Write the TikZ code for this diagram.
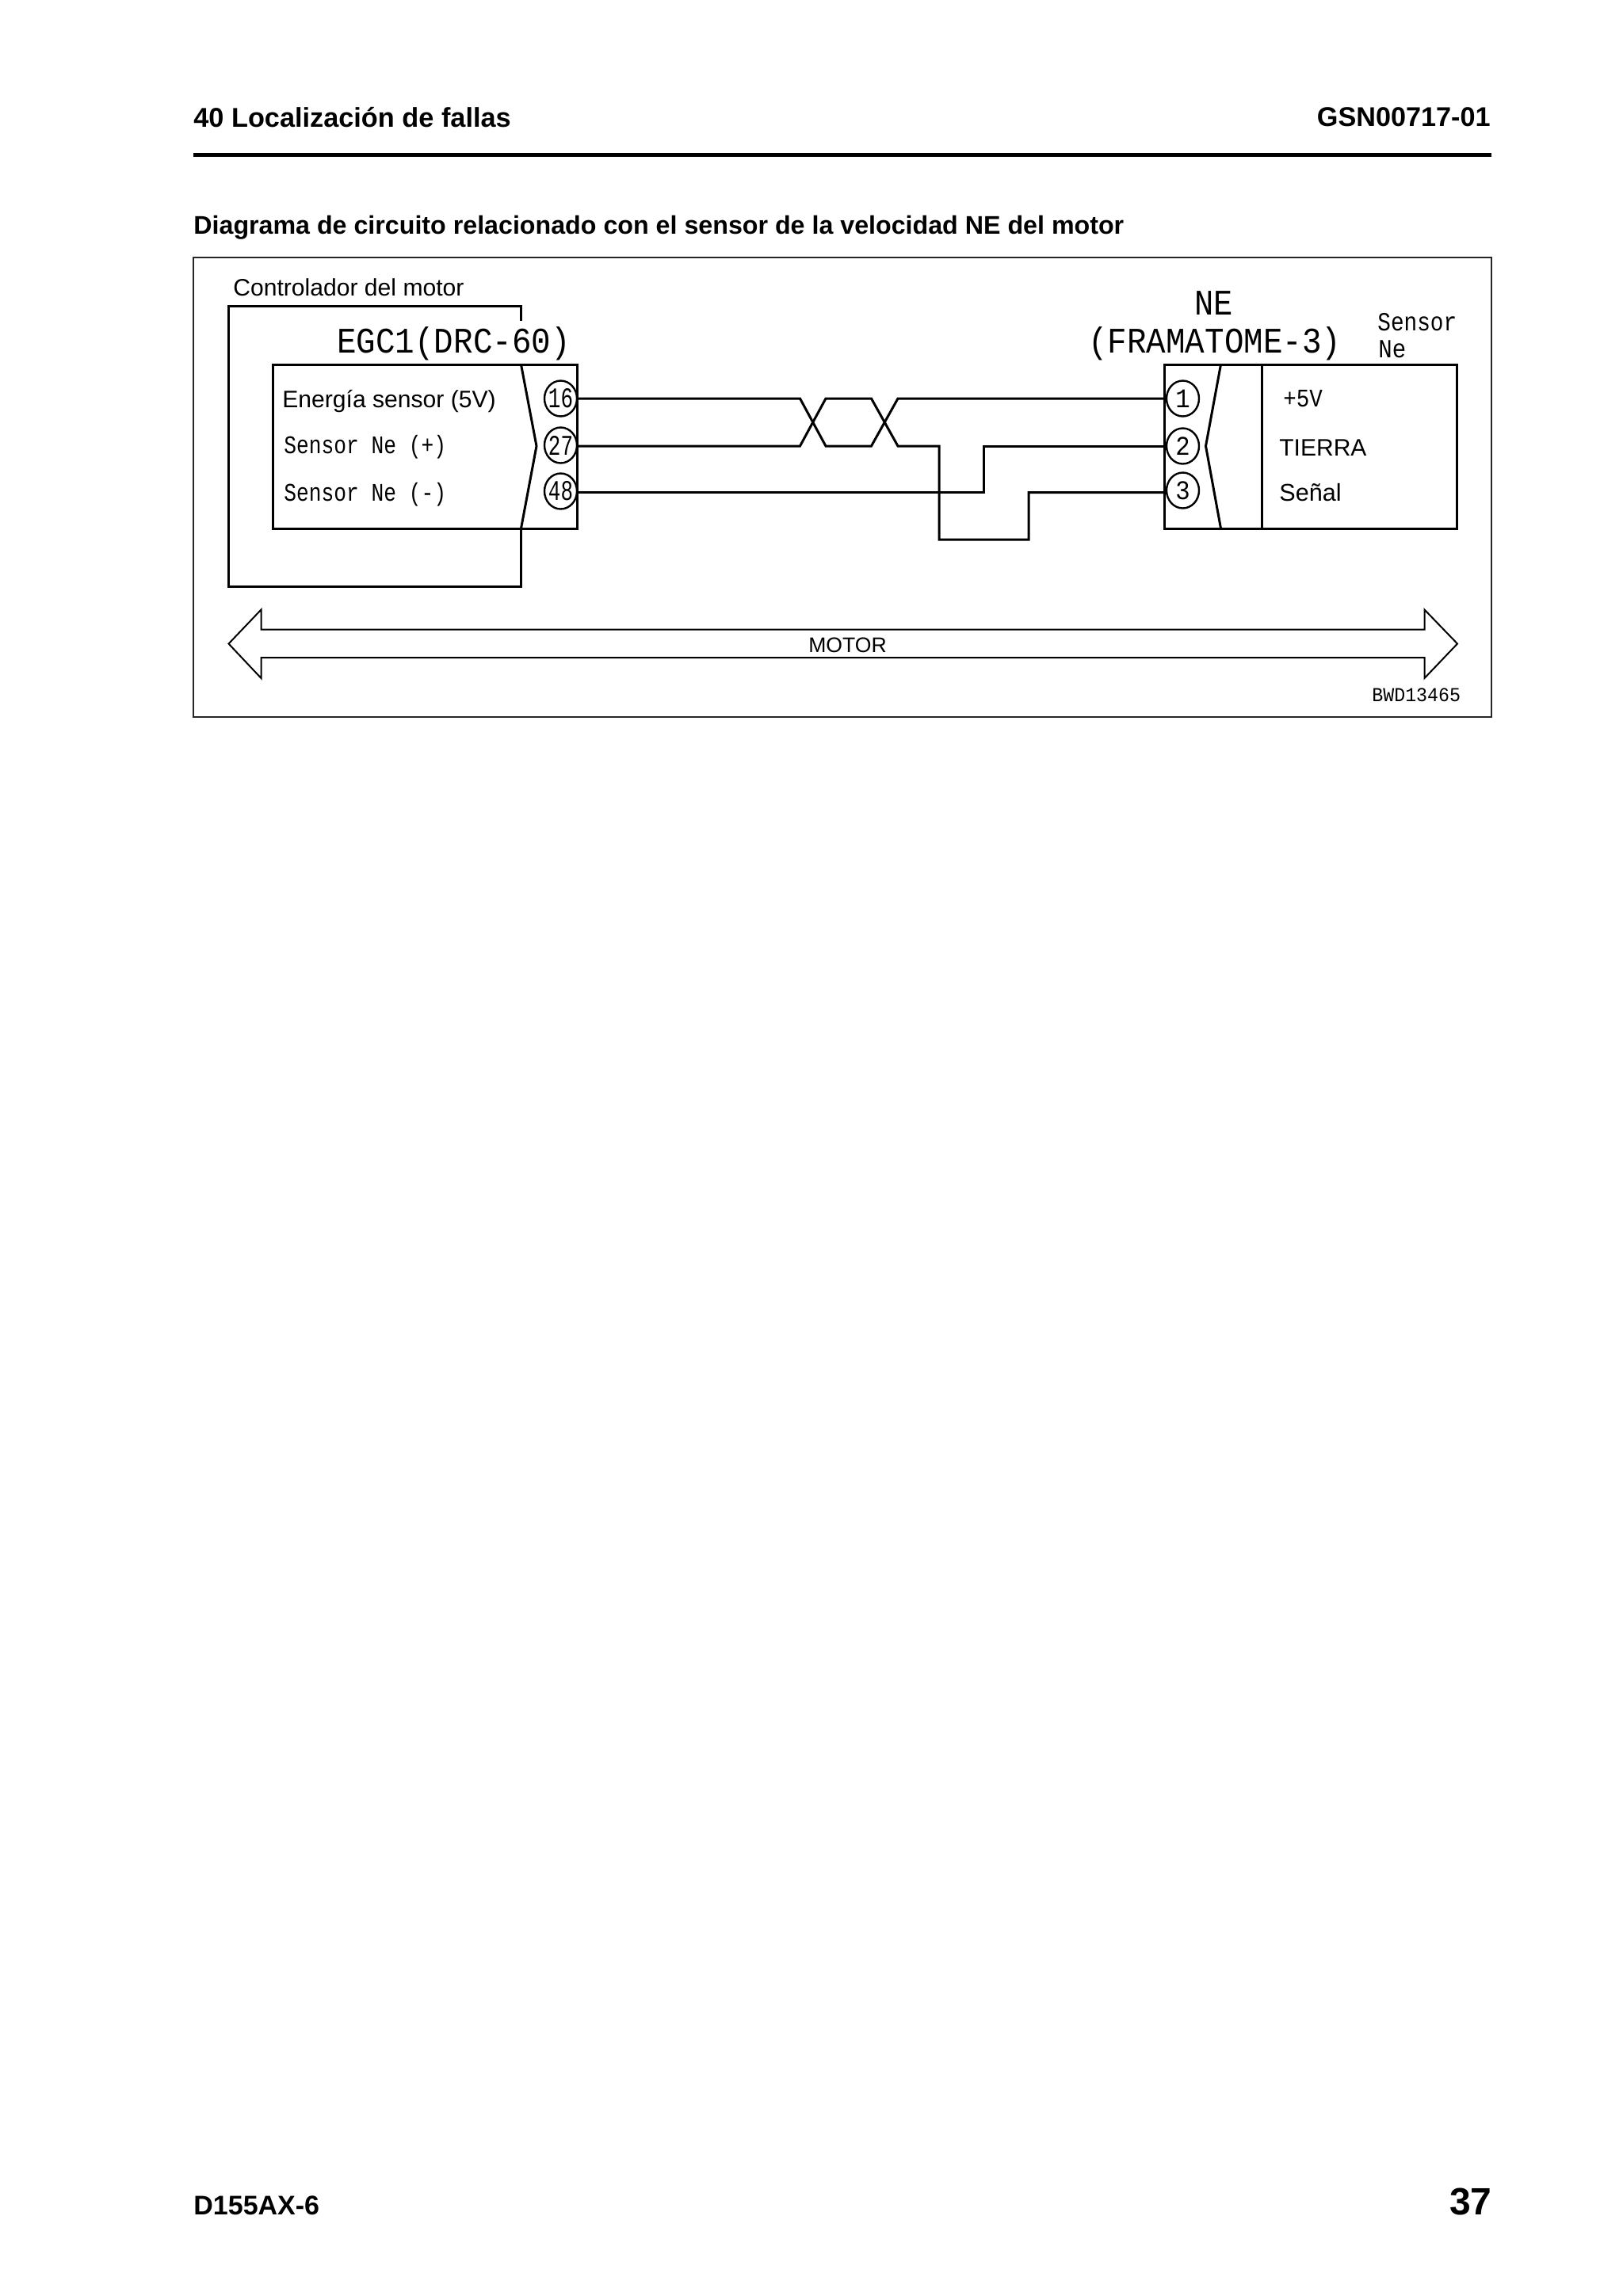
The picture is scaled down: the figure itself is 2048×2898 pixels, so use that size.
\documentclass[tikz,border=0pt]{standalone}
\usepackage{fontspec}
\setmainfont{Liberation Sans}
\newfontfamily\cadfont{Liberation Mono}
\usetikzlibrary{shapes.geometric}
\tikzset{
  x=0.5pt,y=-0.5pt,
  wire/.style={line width=1.5pt,line join=miter},
  thin line/.style={line width=1pt,line join=miter},
  frame line/.style={line width=1pt,draw=black!85},
  pin/.style={draw,line width=1.2pt,ellipse,minimum width=20.5pt,minimum height=22.5pt,inner sep=0pt},
  lab/.style={inner sep=0pt,anchor=base west},
  cadnode/.style={inner sep=0pt,anchor=base west,font=\cadfont},
  pinlab/.style={inner sep=0pt,font=\cadfont},
}
\newcommand{\hs}[3]{\fontsize{#1}{#1}\selectfont\scalebox{#2}[1]{#3}}
\begin{document}
\begin{tikzpicture}
\useasboundingbox (0,0) rectangle (2048,2898);
\fill[white] (0,0) rectangle (2048,2898);
% header
\node[lab,font=\bfseries\fontsize{17.15}{17.15}\selectfont] (h1) at (244,160) {40 Localización de fallas};
\node[inner sep=0pt,anchor=base east,font=\bfseries\fontsize{17.1}{17.1}\selectfont] (h2) at (1881,159) {GSN00717-01};
\draw[line width=2.5pt] (244,195) -- (1882,195);
\node[lab,font=\bfseries\fontsize{16.1}{16.1}\selectfont] (title) at (244,295) {Diagrama de circuito relacionado con el sensor de la velocidad NE del motor};
% frame
\draw[frame line] (244,325) rectangle (1882,905);
% controller
\node[lab,font=\fontsize{15.05}{15.05}\selectfont] (ctrl) at (294,373) {Controlador del motor};
\draw[wire] (657.5,405) -- (657.5,386) -- (288,386) -- (288,740) -- (657.5,740) -- (657.5,667);
\node[cadnode] (egc) at (425,445) {\hs{22.7}{0.9}{EGC1(DRC-60)}};
\draw[wire] (344.5,460) rectangle (728.5,667);
\draw[wire] (657.5,460) -- (677,563) -- (657.5,667);
\node[lab,font=\fontsize{15.05}{15.05}\selectfont] (e1) at (356,514) {Energía sensor (5V)};
\node[cadnode] (e2) at (358,572) {\hs{16}{0.82}{Sensor Ne (+)}};
\node[cadnode] (e3) at (358,632) {\hs{16}{0.82}{Sensor Ne (-)}};
\node[pin] (p16) at (707.5,503) {};
\node[pin] (p27) at (707.5,562) {};
\node[pin] (p48) at (707.5,620) {};
\node[pinlab] at (p16) {\hs{18}{0.72}{16}};
\node[pinlab] at (p27) {\hs{18}{0.72}{27}};
\node[pinlab] at (p48) {\hs{18}{0.72}{48}};
% right connector
\node[cadnode] (ne) at (1507,397) {\hs{22.7}{0.89}{NE}};
\node[cadnode] (fr) at (1373,445) {\hs{22.7}{0.9}{(FRAMATOME-3)}};
\node[cadnode] (sen) at (1738,417) {\hs{16.5}{0.84}{Sensor}};
\node[cadnode] (nee) at (1739,451) {\hs{16.5}{0.88}{Ne}};
\draw[wire] (1469.5,460) rectangle (1838.5,667);
\draw[wire] (1540.5,460) -- (1521.5,563) -- (1540.5,667);
\draw[wire] (1592.5,460) -- (1592.5,667);
\node[pin] (p1) at (1492.5,503) {};
\node[pin] (p2) at (1492.5,563) {};
\node[pin] (p3) at (1492.5,619) {};
\node[pinlab] at (p1) {\hs{17}{0.9}{1}};
\node[pinlab] at (p2) {\hs{17}{0.9}{2}};
\node[pinlab] at (p3) {\hs{17}{0.9}{3}};
\node[cadnode] (v5) at (1619,513) {\hs{16}{0.86}{+5V}};
\node[lab,font=\fontsize{15}{15}\selectfont] (t1) at (1614,575) {TIERRA};
\node[lab,font=\fontsize{15.3}{15.3}\selectfont] (t2) at (1614,632) {Señal};
% wires
\draw[wire] (p16.east) -- (1009.5,503) -- (1042,563) -- (1099.5,563) -- (1133,503) -- (p1.west);
\draw[wire] (p27.east |- 0,563) -- (1009.5,563) -- (1042,503) -- (1099.5,503) -- (1133,563) -- (1185,563) -- (1185,681) -- (1298,681) -- (1298,621.5) -- (p3.west |- 0,621.5);
\draw[wire] (p48.east |- 0,621.5) -- (1241.5,621.5) -- (1241.5,563) -- (p2.west);
% double arrow
\draw[thin line] (288.5,812.5) -- (329.5,769.5) -- (329.5,794.5) -- (1797.5,794.5) -- (1797.5,769.5) -- (1839,812.5) -- (1797.5,856) -- (1797.5,830) -- (329.5,830) -- (329.5,856) -- cycle;
\node[inner sep=0pt,anchor=base,font=\fontsize{13.3}{13.3}\selectfont] (motor) at (1069.5,823) {MOTOR};
\node[cadnode] (bwd) at (1731,885) {\hs{12.5}{0.93}{BWD13465}};
% footer
\node[lab,font=\bfseries\fontsize{17}{17}\selectfont] (f1) at (244,2795) {D155AX-6};
\node[inner sep=0pt,anchor=base east,font=\bfseries\fontsize{24}{24}\selectfont] (f2) at (1883,2795) {37};
\end{tikzpicture}
\end{document}
